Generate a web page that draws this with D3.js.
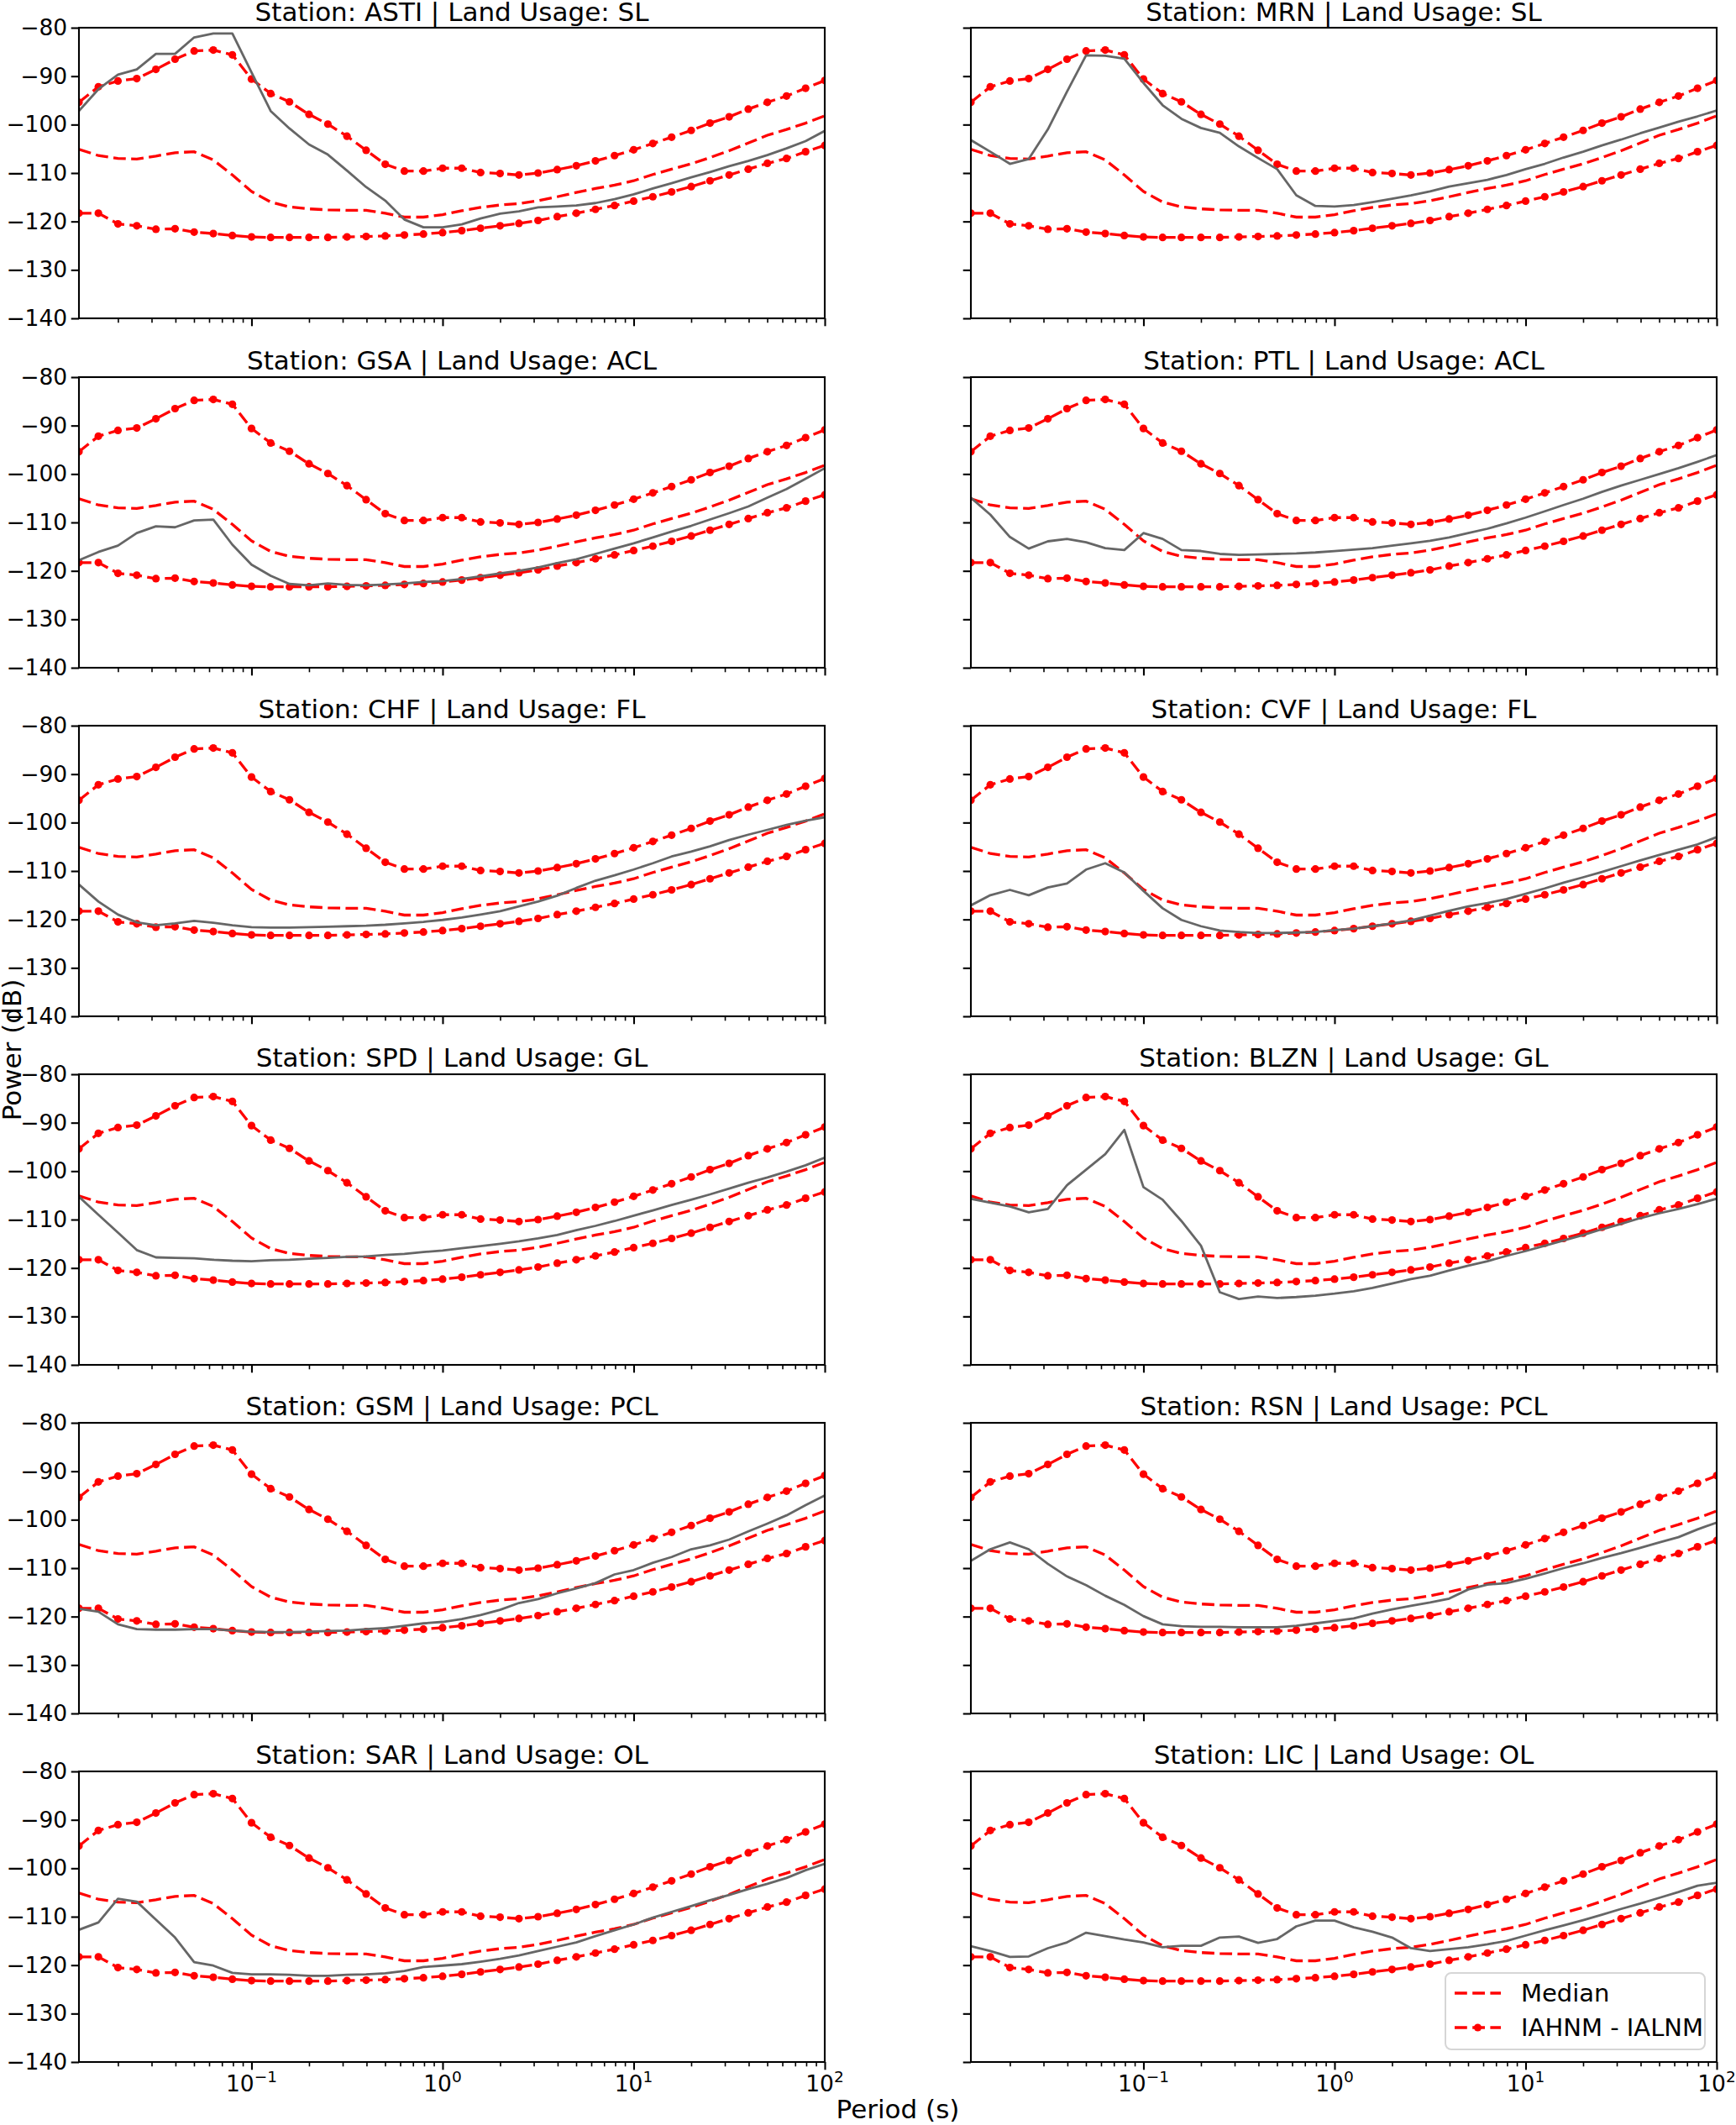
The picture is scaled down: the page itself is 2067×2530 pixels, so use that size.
<!DOCTYPE html>
<html><head><meta charset="utf-8">
<script src="https://cdn.jsdelivr.net/npm/d3@7"></script>
<style>body{margin:0;background:#fff}svg{display:block}text{font-family:"DejaVu Sans",sans-serif}</style>
</head><body>
<svg id="c" width="2067" height="2530"></svg>
<script>
// Periods (s)
const periods = [0.0125,0.0158,0.02,0.0251,0.0316,0.0398,0.0501,0.0631,0.0794,0.1,
  0.126,0.158,0.2,0.251,0.316,0.398,0.501,0.631,0.794,1,
  1.26,1.58,2,2.51,3.16,3.98,5.01,6.31,7.94,10,
  12.6,15.8,20,25.1,31.6,39.8,50.1,63.1,79.4,100];
// Reference curves (same in every panel)
const median = [-105.1,-106.4,-107.0,-107.1,-106.5,-105.8,-105.6,-107.3,-110.4,-113.8,
  -116.0,-117.0,-117.4,-117.6,-117.7,-117.7,-118.3,-119.1,-119.1,-118.6,
  -117.8,-117.1,-116.6,-116.3,-115.7,-114.9,-114.0,-113.2,-112.5,-111.6,
  -110.3,-109.2,-108.1,-106.8,-105.4,-103.8,-102.2,-101.0,-99.7,-98.2];
const iahnm = [-95.4,-92.2,-91.0,-90.5,-88.6,-86.5,-84.8,-84.6,-85.6,-90.6,
  -93.6,-95.3,-97.9,-99.9,-102.4,-105.3,-108.2,-109.6,-109.6,-109.0,
  -109.0,-109.9,-110.1,-110.4,-110.0,-109.3,-108.5,-107.5,-106.4,-105.2,
  -103.9,-102.6,-101.2,-99.7,-98.4,-96.8,-95.4,-94.1,-92.5,-90.9];
const ialnm = [-118.3,-118.3,-120.5,-120.9,-121.6,-121.5,-122.2,-122.5,-122.9,-123.2,
  -123.3,-123.3,-123.3,-123.3,-123.2,-123.1,-123.0,-122.8,-122.6,-122.3,
  -121.9,-121.4,-120.9,-120.4,-119.8,-119.0,-118.3,-117.5,-116.7,-115.8,
  -114.9,-113.9,-112.8,-111.6,-110.4,-109.2,-108.0,-107.0,-105.6,-104.3];
// Station median PSD curves
const asti = [-97.2,-92.7,-89.7,-88.6,-85.4,-85.4,-82.0,-81.2,-81.2,-89.2,
  -97.2,-100.8,-104.1,-106.2,-109.5,-112.9,-115.7,-119.6,-121.2,-121.2,
  -120.6,-119.4,-118.4,-117.9,-117.1,-116.9,-116.7,-116.2,-115.4,-114.4,
  -113.2,-112.1,-110.9,-109.8,-108.6,-107.5,-106.3,-104.9,-103.4,-101.3];
const mrn = [-103.2,-105.6,-108.1,-107.1,-101.0,-93.2,-85.7,-85.8,-86.4,-91.4,
  -96.0,-98.8,-100.7,-101.7,-104.5,-106.9,-109.2,-114.6,-116.8,-116.9,
  -116.6,-116.0,-115.3,-114.6,-113.8,-112.8,-112.1,-111.4,-110.4,-109.2,
  -108.1,-106.8,-105.6,-104.3,-103.1,-101.8,-100.6,-99.4,-98.3,-97.1];
const gsa = [-117.8,-116.1,-114.8,-112.2,-110.8,-111.0,-109.6,-109.4,-114.6,-118.7,
  -121.0,-122.7,-123.0,-122.6,-122.9,-123.0,-122.8,-122.6,-122.3,-122.1,
  -121.7,-121.1,-120.5,-120.0,-119.3,-118.4,-117.6,-116.5,-115.4,-114.3,
  -113.1,-111.9,-110.7,-109.4,-108.1,-106.7,-104.9,-103.1,-101.0,-98.8];
const ptl = [-104.9,-108.4,-113.0,-115.4,-113.9,-113.4,-114.1,-115.3,-115.7,-112.2,
  -113.4,-115.7,-115.9,-116.5,-116.7,-116.6,-116.5,-116.4,-116.2,-115.9,
  -115.6,-115.3,-114.8,-114.3,-113.8,-113.1,-112.2,-111.3,-110.2,-109.0,
  -107.7,-106.4,-105.1,-103.7,-102.4,-101.2,-100.0,-98.8,-97.5,-96.1];
const chf = [-112.8,-116.3,-119.0,-120.6,-121.2,-120.8,-120.3,-120.7,-121.2,-121.6,
  -121.7,-121.7,-121.6,-121.5,-121.4,-121.3,-121.1,-120.8,-120.5,-120.1,
  -119.6,-119.0,-118.3,-117.3,-116.3,-115.1,-113.5,-112.0,-110.9,-109.7,
  -108.4,-107.0,-106.0,-104.9,-103.6,-102.5,-101.5,-100.5,-99.6,-98.9];
const cvf = [-117.1,-115.0,-113.9,-115.0,-113.4,-112.6,-109.7,-108.4,-110.3,-114.1,
  -117.7,-120.1,-121.4,-122.3,-122.6,-122.8,-122.8,-122.7,-122.6,-122.2,
  -121.9,-121.4,-120.8,-120.2,-119.2,-118.2,-117.3,-116.6,-115.8,-114.7,
  -113.6,-112.4,-111.3,-110.2,-109.0,-107.8,-106.7,-105.6,-104.5,-103.0];
const spd = [-105.3,-109.0,-112.7,-116.3,-117.8,-117.9,-118.0,-118.3,-118.5,-118.6,
  -118.4,-118.3,-118.1,-117.9,-117.7,-117.6,-117.3,-117.1,-116.7,-116.4,
  -115.9,-115.5,-115.0,-114.5,-113.9,-113.2,-112.2,-111.3,-110.3,-109.2,
  -108.1,-107.0,-105.9,-104.8,-103.6,-102.4,-101.3,-100.1,-98.8,-97.2];
const blzn = [-105.7,-106.5,-107.3,-108.5,-107.8,-102.9,-99.7,-96.5,-91.5,-103.3,
  -105.9,-110.3,-115.4,-125.0,-126.4,-125.9,-126.2,-126.0,-125.7,-125.3,
  -124.8,-124.1,-123.2,-122.3,-121.6,-120.5,-119.5,-118.6,-117.5,-116.5,
  -115.4,-114.3,-113.2,-112.0,-110.9,-109.7,-108.7,-107.8,-106.8,-105.7];
const gsm = [-118.4,-119.0,-121.6,-122.6,-122.7,-122.7,-122.6,-122.6,-122.9,-123.1,
  -123.2,-123.2,-123.1,-123.0,-122.9,-122.6,-122.4,-121.9,-121.4,-121.1,
  -120.5,-119.7,-118.6,-117.2,-116.4,-115.2,-114.2,-113.1,-111.3,-110.4,
  -108.9,-107.7,-106.1,-105.3,-104.1,-102.4,-100.8,-99.1,-97.0,-95.0];
const rsn = [-108.5,-106.1,-104.7,-106.1,-109.1,-111.7,-113.5,-115.7,-117.6,-119.9,
  -121.6,-122.0,-122.1,-122.1,-122.2,-122.2,-122.2,-121.9,-121.4,-120.9,
  -120.4,-119.4,-118.5,-117.8,-117.1,-116.3,-114.4,-113.4,-113.1,-112.2,
  -111.1,-110.0,-109.0,-107.9,-106.9,-105.8,-104.7,-103.6,-102.0,-100.6];
const sar = [-112.7,-111.2,-106.3,-106.9,-110.6,-114.3,-119.4,-120.1,-121.6,-121.9,
  -121.9,-122.0,-122.2,-122.2,-122.0,-121.9,-121.7,-121.2,-120.4,-120.1,
  -119.8,-119.3,-118.7,-118.0,-117.1,-116.2,-115.3,-114.0,-112.8,-111.6,
  -110.2,-109.0,-107.8,-106.6,-105.5,-104.3,-103.2,-102.0,-100.4,-99.1];
const lic = [-116.1,-117.1,-118.3,-118.2,-116.5,-115.3,-113.3,-114.0,-114.7,-115.3,
  -116.3,-116.0,-116.0,-114.3,-114.1,-115.4,-114.6,-112.0,-110.8,-110.8,
  -112.2,-113.1,-114.3,-116.5,-117.1,-116.7,-116.3,-115.7,-115.0,-113.9,
  -112.8,-111.8,-110.7,-109.6,-108.4,-107.3,-106.1,-104.9,-103.6,-103.0];

const stations = ["ASTI","MRN","GSA","PTL","CHF","CVF","SPD","BLZN","GSM","RSN","SAR","LIC"];
const landUsage = ["SL","SL","ACL","ACL","FL","FL","GL","GL","PCL","PCL","OL","OL"];
const stationCurves = [asti,mrn,gsa,ptl,chf,cvf,spd,blzn,gsm,rsn,sar,lic];
const yTicks = [-140,-130,-120,-110,-100,-90,-80];
const xMajor = [0.1,1,10,100];
const xExp = ["-1","0","1","2"];
const legendLabels = ["Median","IAHNM - IALNM"];

const svg = d3.select("#c");
const colX = [94, 1156], W = 888;
const rowY = [33, 449, 864, 1279, 1694, 2109], H = 346;
const x = d3.scaleLog().domain([periods[0], 100]).range([0, W]);
const y = d3.scaleLinear().domain([-140, -80]).range([H, 0]);
const minor = x.ticks().filter(v => !xMajor.some(m => Math.abs(m - v) < 1e-9));
const RED = "#ff0000";
const dash = "14.8,6.4";
const line = d3.line().x((d,i) => x(periods[i])).y(d => y(d));
const fmt = v => String(v).replace("-", "\u2212");

stations.forEach((st, idx) => {
  const c = idx % 2, r = Math.floor(idx / 2);
  const g = svg.append("g").attr("transform", `translate(${colX[c]},${rowY[r]})`);
  const clip = "clip" + idx;
  g.append("clipPath").attr("id", clip).append("rect").attr("x", 0).attr("y", -2).attr("width", W).attr("height", H + 4);
  const pg = g.append("g").attr("clip-path", `url(#${clip})`);

  // Median
  pg.append("path").attr("d", line(median)).attr("fill", "none").attr("stroke", RED)
    .attr("stroke-width", 3.3).attr("stroke-dasharray", dash);
  // IAHNM / IALNM
  [iahnm, ialnm].forEach(arr => {
    pg.append("path").attr("d", line(arr)).attr("fill", "none").attr("stroke", RED)
      .attr("stroke-width", 3.3).attr("stroke-dasharray", dash);
    pg.selectAll(null).data(arr).enter().append("circle")
      .attr("cx", (d,i) => x(periods[i])).attr("cy", d => y(d)).attr("r", 4.6).attr("fill", RED);
  });
  // station curve
  pg.append("path").attr("d", line(stationCurves[idx])).attr("fill", "none")
    .attr("stroke", "#666666").attr("stroke-width", 2.8).attr("stroke-linejoin", "round");

  // y axis
  const ya = d3.axisLeft(y).tickValues(yTicks).tickSize(9.3).tickPadding(4.5)
    .tickFormat(c === 0 ? fmt : () => "");
  const yg = g.append("g").call(ya);
  yg.select(".domain").remove();
  yg.selectAll(".tick line").attr("stroke", "#000").attr("stroke-width", 2.1);
  yg.selectAll(".tick text").attr("font-size", 26.5).attr("fill", "#000")
    .attr("font-family", "DejaVu Sans, sans-serif");

  // x axis major + minor
  const xa = d3.axisBottom(x).tickValues(xMajor).tickSize(9.3).tickFormat(() => "");
  const xg = g.append("g").attr("transform", `translate(0,${H})`).call(xa);
  xg.select(".domain").remove();
  xg.selectAll(".tick line").attr("stroke", "#000").attr("stroke-width", 2.1);
  const xm = d3.axisBottom(x).tickValues(minor).tickSize(5.3).tickFormat(() => "");
  const xmg = g.append("g").attr("transform", `translate(0,${H})`).call(xm);
  xmg.select(".domain").remove();
  xmg.selectAll(".tick line").attr("stroke", "#000").attr("stroke-width", 1.6);

  if (r === 5) {
    xMajor.forEach((v, i) => {
      const t = g.append("text").attr("x", x(v)).attr("y", H + 35).attr("text-anchor", "middle")
        .attr("font-size", 26.5).attr("fill", "#000");
      t.append("tspan").text("10");
      t.append("tspan").attr("dy", -11).attr("font-size", 18.5).text(xExp[i].replace("-", "\u2212"));
    });
  }

  // frame
  g.append("rect").attr("width", W).attr("height", H).attr("fill", "none")
    .attr("stroke", "#000").attr("stroke-width", 2.1);

  // title
  g.append("text").attr("x", W / 2).attr("y", r === 0 ? -8 : -9.5).attr("text-anchor", "middle")
    .attr("font-size", 31).attr("fill", "#000")
    .text(`Station: ${st} | Land Usage: ${landUsage[idx]}`);

  // legend on last panel
  if (idx === stations.length - 1) {
    const lx = 1721 - colX[1], ly = 2349 - rowY[5];
    const lg = g.append("g").attr("transform", `translate(${lx},${ly})`);
    lg.append("rect").attr("width", 309).attr("height", 91).attr("rx", 7)
      .attr("fill", "#fff").attr("fill-opacity", 0.8).attr("stroke", "#d6d6d6").attr("stroke-width", 2);
    legendLabels.forEach((lab, i) => {
      const cy = 24 + i * 41;
      lg.append("line").attr("x1", 11).attr("x2", 66).attr("y1", cy).attr("y2", cy)
        .attr("stroke", RED).attr("stroke-width", 3.3).attr("stroke-dasharray", dash);
      if (i === 1) lg.append("circle").attr("cx", 38.5).attr("cy", cy).attr("r", 4.6).attr("fill", RED);
      lg.append("text").attr("x", 90).attr("y", cy).attr("dy", "0.36em").attr("font-size", 29)
        .attr("fill", "#000").text(lab);
    });
  }
});

// Figure labels
svg.append("text").attr("x", 1069).attr("y", 2522).attr("text-anchor", "middle")
  .attr("font-size", 31).attr("fill", "#000").text("Period (s)");
svg.append("text").attr("transform", "translate(25,1250) rotate(-90)").attr("text-anchor", "middle")
  .attr("font-size", 31).attr("fill", "#000").text("Power (dB)");
</script>
</body></html>
